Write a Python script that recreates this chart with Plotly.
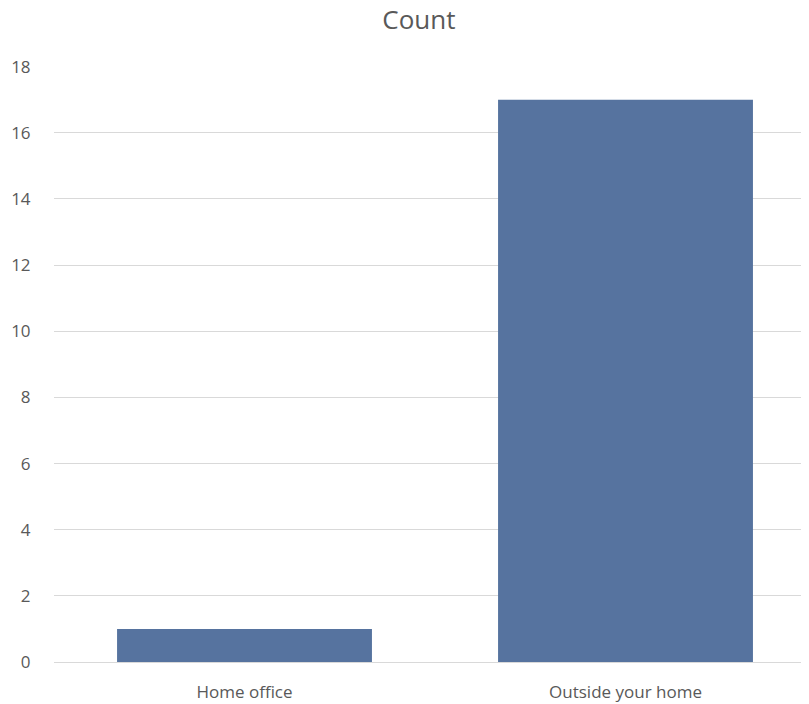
import plotly.graph_objects as go

categories = ["Home office", "Outside your home"]
counts = [1, 17]
y_ticks = [0, 2, 4, 6, 8, 10, 12, 14, 16, 18]

fig = go.Figure(
    go.Bar(
        x=categories,
        y=counts,
        marker=dict(color="#56739f", line=dict(width=0)),
        hoverinfo="x+y",
    )
)

fig.update_layout(
    width=801,
    height=696,
    margin=dict(l=46, r=0, t=58, b=42),
    paper_bgcolor="white",
    plot_bgcolor="white",
    bargap=0.331,
    showlegend=False,
    font=dict(family="Open Sans, Liberation Sans, sans-serif", color="#595959", size=17),
    title=dict(
        text="Count",
        x=0.513,
        xanchor="center",
        y=0.983,
        yanchor="middle",
        font=dict(size=26, color="#595959"),
    ),
)

fig.update_xaxes(
    range=[-0.5, 1.4816],
    showgrid=False,
    showline=False,
    zeroline=False,
    ticks="outside",
    ticklen=15,
    tickcolor="rgba(0,0,0,0)",
    tickfont=dict(size=17, color="#595959"),
    fixedrange=True,
)

fig.update_yaxes(
    range=[0, 18.02],
    tickvals=y_ticks,
    showgrid=True,
    gridcolor="#d9d9d9",
    gridwidth=1,
    zeroline=True,
    zerolinecolor="#d9d9d9",
    zerolinewidth=1,
    showline=False,
    ticks="outside",
    ticklen=19,
    tickcolor="rgba(0,0,0,0)",
    tickfont=dict(size=17, color="#595959"),
    fixedrange=True,
)

fig.write_html("out.html")
